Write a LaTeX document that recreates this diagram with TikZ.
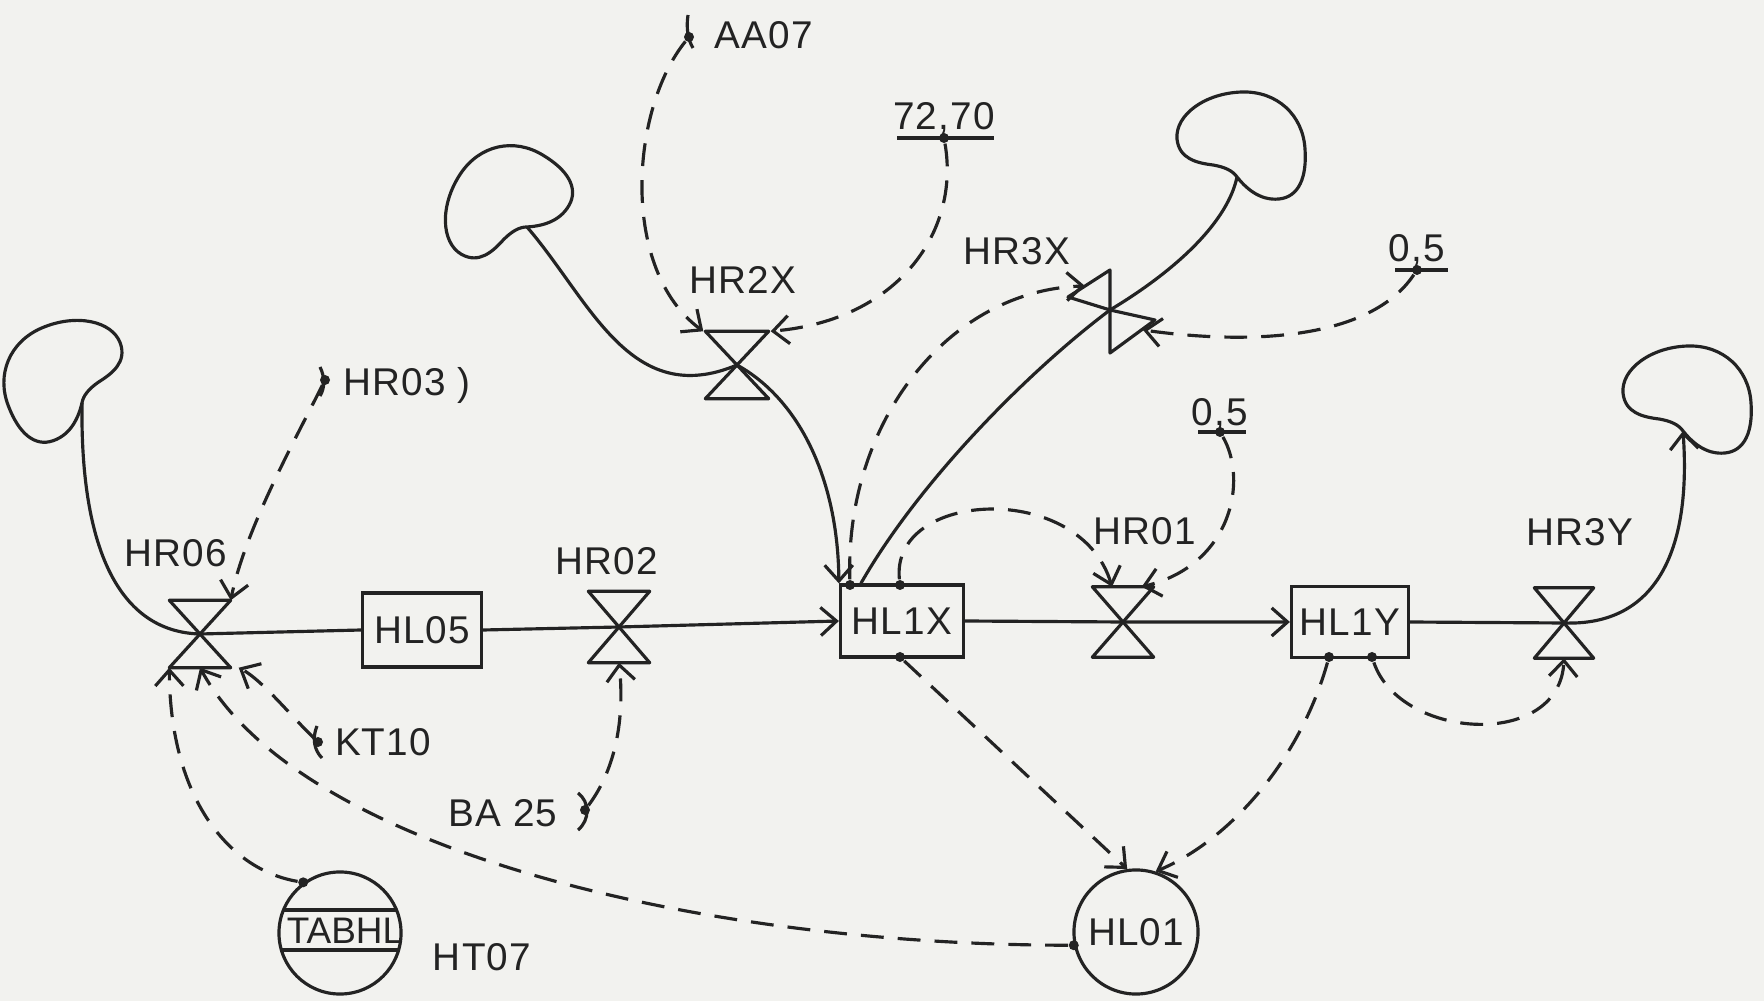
\documentclass[tikz,border=0pt]{standalone}
\usepackage{fontspec}
\setmainfont{Liberation Sans}[LetterSpace=3]
\usetikzlibrary{arrows.meta,calc}
\definecolor{ink}{RGB}{35,35,35}
\definecolor{paper}{RGB}{242,242,239}
\newcommand\cloudshape{(0,0) .. controls (8,10) and (22,24) .. (42,22) .. controls (62,20) and (70,0) .. (68,-28) .. controls (66,-62) and (40,-86) .. (5,-85) .. controls (-32,-84) and (-62,-62) .. (-60,-38) .. controls (-58,-18) and (-40,-14) .. (-24,-12) .. controls (-12,-10) and (-4,-6) .. (0,0) -- cycle}
\newcommand\valvenode[5]{%
  \node[valvebox, minimum width=#4, minimum height=#5] (#1) at (#2,#3) {};
  \draw[flow] (#1.north west) -- (#1.north east) -- (#1.south west) -- (#1.south east) -- cycle;}
\begin{document}
\begin{tikzpicture}[x=0.01cm,y=-0.01cm,
  every node/.style={font=\fontsize{11}{13}\selectfont, text=ink},
  flow/.style={draw=ink, line width=0.9pt, line join=round},
  info/.style={draw=ink, line width=0.9pt, dash pattern=on 6.5pt off 4pt},
  arr/.style={-{Straight Barb[length=4.5pt,width=8pt,line width=0.9pt]}},
  stockbox/.style={draw=ink, line width=0.9pt, inner sep=0pt},
  auxc/.style={draw=ink, circle, line width=0.9pt, inner sep=0pt},
  valvebox/.style={inner sep=0pt},
  lbl/.style={inner sep=0pt},
  dotc/.style={fill=ink, circle, inner sep=0pt, minimum size=0.1cm}]
\fill[paper] (0,0) rectangle (1764,1001);
\useasboundingbox (0,0) rectangle (1764,1001);

% clouds
\coordinate (cL) at (82,403);
\coordinate (cT) at (527,227);
\coordinate (cTR) at (1237,177);
\coordinate (cR) at (1683,431);
\draw[flow, shift={(cL)}, rotate=25, xscale=-1] \cloudshape;
\draw[flow, shift={(cT)}, rotate=55] \cloudshape;
\draw[flow, shift={(cTR)}] \cloudshape;
\draw[flow, shift={(cR)}] \cloudshape;

% valves
\valvenode{hr06}{200}{634}{0.6cm}{0.66cm}
\valvenode{hr02}{619}{627}{0.6cm}{0.7cm}
\valvenode{hr01}{1123}{622}{0.6cm}{0.69cm}
\valvenode{hr3y}{1564}{623}{0.58cm}{0.69cm}
\valvenode{hr2x}{737}{365}{0.62cm}{0.66cm}
\coordinate (hr3x) at (1110,310);
\draw[flow, shift={(hr3x)}] (0,-40) -- (-42,-13) -- (0,0) -- (45,10) -- (0,43) -- cycle;

% stocks and auxiliaries
\node[stockbox, minimum width=1.19cm, minimum height=0.74cm] (hl05) at (422,630) {HL05};
\node[stockbox, minimum width=1.23cm, minimum height=0.72cm] (hl1x) at (902,621) {HL1X};
\node[stockbox, minimum width=1.17cm, minimum height=0.71cm] (hl1y) at (1350,622) {HL1Y};
\node[auxc, minimum size=1.24cm] (hl01) at (1136,932) {HL01};
\node[auxc, minimum size=1.22cm] (tabhl) at (340,933) {};
\node[lbl, font=\fontsize{10.5}{12}\selectfont\addfontfeature{LetterSpace=0}] (tabtxt) at (345,931) {TABHL};
\draw[flow] ($(tabhl.center)+(-56.5,-23)$) -- ($(tabhl.center)+(56.5,-23)$);
\draw[flow] ($(tabhl.center)+(-58.6,17)$) -- ($(tabhl.center)+(58.6,17)$);

% labels
\node[lbl] (lhr06) at (176,553) {HR06};
\node[lbl] (lhr02) at (607,561) {HR02};
\node[lbl] (lhr01) at (1145,531) {HR01};
\node[lbl] (lhr3y) at (1580,532) {HR3Y};
\node[lbl] (lhr2x) at (743,280) {HR2X};
\node[lbl] (lhr3x) at (1017,251) {HR3X};
\node[lbl, anchor=west] (lhr03) at (343,385) {HR03 )};
\node[lbl] (laa07) at (764,35) {AA07};
\node[lbl] (l7270) at (944,118) {72,70};
\node[lbl] (l05a) at (1417,250) {0,5};
\node[lbl] (l05b) at (1220,414) {0,5};
\node[lbl] (lkt10) at (383,742) {KT10};
\node[lbl] (lba25) at (503,813) {BA 25};
\node[lbl] (lht07) at (482,957) {HT07};
\draw[flow] (897,138) -- (994,138);
\draw[flow] (1395,270) -- (1448,270);
\draw[flow] (1198,432) -- (1246,432);

% dots
\node[dotc] (dhr03) at (325,380) {};
\node[dotc] (daa07) at (689,37) {};
\node[dotc] (d7270) at (944,138) {};
\node[dotc] (d05a) at (1417,270) {};
\node[dotc] (d05b) at (1220,432) {};
\node[dotc] (dkt10) at (318,742) {};
\node[dotc] (dba25) at (585,810) {};
\node[dotc] (dtab) at (tabhl.126) {};
\node[dotc] (dhl01) at (hl01.192) {};
\node[dotc] (dx1) at (850,585) {};
\node[dotc] (dx2) at (900,585) {};
\node[dotc] (dx3) at (900,657) {};
\node[dotc] (dy1) at (1329,657) {};
\node[dotc] (dy2) at (1372,657) {};

% ticks at source ends
\draw[flow] (320,367) .. controls (325,377) and (325,388) .. (320,396);
\draw[flow] (688,15) .. controls (686,28) and (688,40) .. (693,48);
\draw[flow] (317,726) .. controls (312,738) and (314,750) .. (322,758);
\draw[flow] (578,793) .. controls (590,802) and (590,820) .. (578,830);

% flows
\draw[flow] (cL) .. controls (80,560) and (125,632) .. (hr06.center);
\draw[flow] (hr06.center) -- (hl05.west);
\draw[flow,arr] (hl05.east) -- (hr02.center) -- (hl1x.west);
\draw[flow,arr] (hl1x.east) -- (hr01.center) -- (hl1y.west);
\draw[flow] (hl1y.east) -- (hr3y.center);
\draw[flow,arr] (hr3y.center) .. controls (1650,626) and (1692,560) .. (cR);
\draw[flow] (cT) .. controls (590,300) and (630,410) .. (hr2x.center);
\draw[flow,arr] (hr2x.center) .. controls (800,400) and (838,480) .. (hl1x.north west);
\draw[flow] ($(hl1x.north west)+(22,0)$) .. controls (920,480) and (1030,370) .. (hr3x);
\draw[flow] (hr3x) .. controls (1180,268) and (1228,220) .. (cTR);

% information links
\draw[info,arr] (dhr03) .. controls (295,440) and (245,530) .. (hr06.north east);
\draw[info,arr] (daa07) .. controls (630,110) and (620,270) .. ($(hr2x.north west)+(-2,0)$);
\draw[info,arr] (d7270) .. controls (960,230) and (900,320) .. ($(hr2x.north east)+(2,0)$);
\draw[info,arr] (dx1) .. controls (845,420) and (950,290) .. ($(hr3x)+(-25,-24)$);
\draw[info,arr] (d05a) .. controls (1370,340) and (1250,345) .. ($(hr3x)+(33,20)$);
\draw[info,arr] (dx2) .. controls (890,490) and (1080,480) .. ($(hr01.north)+(-11,0)$);
\draw[info,arr] (d05b) .. controls (1248,480) and (1232,565) .. ($(hr01.north east)+(-12,0)$);
\draw[info,arr] (dx3) -- (hl01.98);
\draw[info,arr] (dy1) .. controls (1300,760) and (1230,840) .. (hl01.72);
\draw[info,arr] (dy2) .. controls (1400,740) and (1560,750) .. (hr3y.south);
\draw[info,arr] (dba25) .. controls (615,770) and (625,720) .. (hr02.south);
\draw[info,arr] (dkt10) .. controls (290,715) and (262,680) .. ($(hr06.south east)+(8,0)$);
\draw[info,arr] (dhl01) .. controls (700,945) and (300,850) .. (hr06.south);
\draw[info,arr] (dtab) .. controls (230,870) and (170,800) .. (hr06.south west);
\end{tikzpicture}
\end{document}
